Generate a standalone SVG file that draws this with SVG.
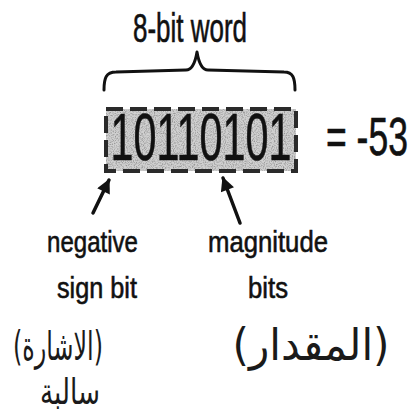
<svg xmlns="http://www.w3.org/2000/svg" width="414" height="416" viewBox="0 0 414 416">
<style>
.t{font-family:"Liberation Sans",Arial,sans-serif;fill:#111;stroke:#111;stroke-width:0.6}
.ar{font-family:"DejaVu Sans","Noto Sans",sans-serif;fill:#1a1a1a}
.ln{fill:none;stroke:#111;stroke-linecap:round;stroke-linejoin:round}
</style>
<defs>
<filter id="grain" x="0" y="0" width="100%" height="100%">
<feTurbulence type="fractalNoise" baseFrequency="0.9" numOctaves="2" seed="3" result="n"/>
<feColorMatrix in="n" type="matrix" values="0 0 0 0 0.3  0 0 0 0 0.3  0 0 0 0 0.3  0 0 0 -2.4 1.4" result="g"/>
<feComposite in="g" in2="SourceGraphic" operator="in"/>
</filter>
<marker id="ah" viewBox="0 0 10 10" refX="9" refY="5" markerWidth="5" markerHeight="4" orient="auto" markerUnits="strokeWidth">
<path d="M0,0 L10,5 L0,10 z" fill="#111"/>
</marker>
</defs>
<rect width="414" height="416" fill="#fff"/>
<g id="title">
<text class="t" x="133" y="42" font-size="40" textLength="114" lengthAdjust="spacingAndGlyphs">8-bit word</text>
</g>
<g id="brace">
<path class="ln" stroke-width="3" d="M104,90 C104,78 106,72 116,72 L186,70 C192,70 195,64 197,52 C199,64 202,70 208,70 L284,72 C293,72 295,78 295,90"/>
</g>
<g id="word">
<rect x="106" y="109" width="190" height="62" fill="#d0d0d0"/>
<rect x="106" y="109" width="190" height="62" fill="#fff" filter="url(#grain)"/>
<rect x="106" y="109" width="190" height="62" fill="none" stroke="#2a2a2a" stroke-width="4" stroke-dasharray="17 7"/>
<text class="t" transform="translate(201,160) scale(0.617,1)" font-size="67" text-anchor="middle">10110101</text>
</g>
<g id="value">
<text class="t" transform="translate(326,155) scale(0.67,1)" font-size="53">= -53</text>
</g>
<g id="connectors">
<line class="ln" x1="93" y1="213" x2="109" y2="180" stroke-width="3.5" marker-end="url(#ah)"/>
<line class="ln" x1="240" y1="223" x2="223" y2="178" stroke-width="3.5" marker-end="url(#ah)"/>
</g>
<g id="sign">
<text class="t" x="47" y="252" font-size="30" textLength="91" lengthAdjust="spacingAndGlyphs">negative</text>
<text class="t" x="57" y="298" font-size="30" textLength="80" lengthAdjust="spacingAndGlyphs">sign bit</text>
<text class="ar" x="58" y="360" font-size="40" text-anchor="middle" textLength="90" lengthAdjust="spacingAndGlyphs">(الاشارة)</text>
<text class="ar" x="70" y="404" font-size="36" text-anchor="middle" textLength="60" lengthAdjust="spacingAndGlyphs">سالبة</text>
</g>
<g id="magnitude">
<text class="t" x="208" y="252" font-size="30" textLength="120" lengthAdjust="spacingAndGlyphs">magnitude</text>
<text class="t" x="248" y="298" font-size="30" textLength="40" lengthAdjust="spacingAndGlyphs">bits</text>
<text class="ar" x="311" y="360" font-size="44" text-anchor="middle" textLength="157" lengthAdjust="spacingAndGlyphs">(المقدار)</text>
</g>
</svg>
